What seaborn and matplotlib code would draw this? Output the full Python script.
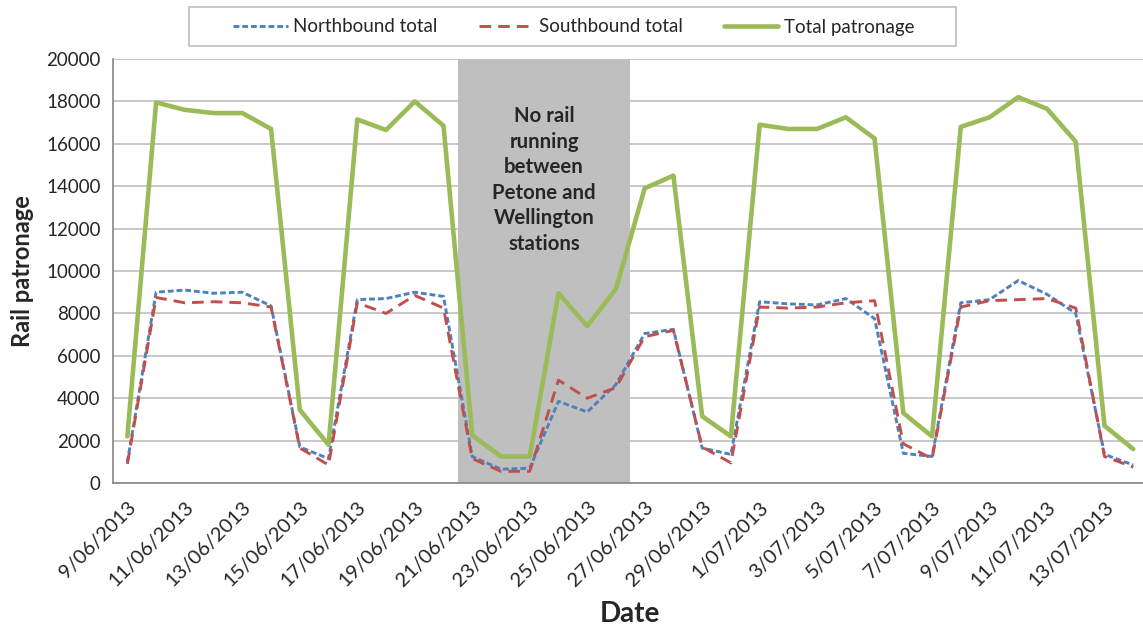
import pandas as pd
import matplotlib
matplotlib.use("Agg")
import matplotlib.pyplot as plt
from matplotlib.patches import Rectangle
import seaborn as sns

# dati (un punto per giorno, dal 9/06/2013 al 14/07/2013)
giorni = pd.date_range("2013-06-09", "2013-07-14", freq="D")
northbound = [1000, 9000, 9100, 8950, 9000, 8350, 1700, 1150, 8650, 8700, 9000, 8800,
              1250, 650, 700, 3850, 3350, 4650, 7050, 7250, 1650, 1350, 8550, 8450,
              8400, 8700, 7750, 1400, 1250, 8500, 8650, 9550, 8900, 8000, 1350, 850]
southbound = [900, 8750, 8500, 8550, 8500, 8300, 1650, 850, 8500, 8000, 8850, 8250,
              1150, 550, 550, 4850, 4000, 4500, 6900, 7200, 1700, 950, 8300, 8250,
              8300, 8500, 8600, 1850, 1150, 8300, 8600, 8650, 8700, 8250, 1250, 750]
totale = [2200, 17950, 17600, 17450, 17450, 16700, 3450, 1800, 17150, 16650, 18000, 16850,
          2250, 1250, 1250, 8950, 7400, 9150, 13900, 14500, 3150, 2200, 16900, 16700,
          16700, 17250, 16250, 3300, 2200, 16800, 17250, 18200, 17650, 16100, 2700, 1600]
etichette_date = ["9/06/2013", "11/06/2013", "13/06/2013", "15/06/2013", "17/06/2013",
                  "19/06/2013", "21/06/2013", "23/06/2013", "25/06/2013", "27/06/2013",
                  "29/06/2013", "1/07/2013", "3/07/2013", "5/07/2013", "7/07/2013",
                  "9/07/2013", "11/07/2013", "13/07/2013"]
# periodo senza treni (21/06 - 26/06)
chiusura_inizio = pd.Timestamp("2013-06-21")
chiusura_fine = pd.Timestamp("2013-06-26")
nota = "No rail\nrunning\nbetween\nPetone and\nWellington\nstations"

df = pd.DataFrame({"data": giorni, "Northbound total": northbound,
                   "Southbound total": southbound, "Total patronage": totale})
df["giorno"] = (df["data"] - giorni[0]).dt.days

sns.set_style("white")
plt.rcParams["font.family"] = ["Lato", "DejaVu Sans"]

W, H = 1143, 628
fig = plt.figure(figsize=(W / 100, H / 100), dpi=100)
ax = fig.add_axes([113 / W, 145 / H, (1147.6 - 113) / W, 424 / H])

# area grigia della chiusura
x0 = (chiusura_inizio - giorni[0]).days - 0.5
x1 = (chiusura_fine - giorni[0]).days + 0.5
ax.axvspan(x0, x1, color="#bfbfbf", zorder=1, lw=0)
ax.text((x0 + x1) / 2, 14290, nota, ha="center", va="center", fontsize=14.7,
        fontweight="bold", linespacing=1.34, zorder=2)

sns.lineplot(data=df, x="giorno", y="Northbound total", ax=ax, color="#4f81bd",
             lw=2.1, label="Northbound total", zorder=3)
sns.lineplot(data=df, x="giorno", y="Southbound total", ax=ax, color="#c0504d",
             lw=2.1, label="Southbound total", zorder=3)
sns.lineplot(data=df, x="giorno", y="Total patronage", ax=ax, color="#9bbb59",
             lw=3.3, label="Total patronage", zorder=4)
linee = ax.get_lines()
linee[0].set_dashes((2.0, 1.0))
linee[1].set_dashes((4.0, 2.4))

ax.set_xlim(-0.5, len(giorni) - 0.5)
ax.set_ylim(0, 20000)
ax.set_yticks(range(0, 20001, 2000))
ax.yaxis.grid(True, color="#bfbfbf", lw=1.2, zorder=0)
ax.set_axisbelow(True)

pos_maggiori = list(range(0, len(giorni), 2))
ax.set_xticks(pos_maggiori)
ax.set_xticklabels(etichette_date, rotation=45, ha="right", va="top",
                   rotation_mode="anchor", fontsize=14.5)
ax.set_xticks([p - 0.5 for p in pos_maggiori], minor=True)
ax.tick_params(axis="x", which="major", length=0, pad=11)
ax.tick_params(axis="x", which="minor", length=7, color="#868686", width=1.2)
ax.tick_params(axis="y", length=6, color="#868686", width=1.2, labelsize=13.5, pad=3)

for lato in ["top", "right"]:
    ax.spines[lato].set_visible(False)
for lato in ["left", "bottom"]:
    ax.spines[lato].set_color("#868686")
    ax.spines[lato].set_linewidth(1.2)

ax.set_xlabel("Date", fontsize=20, fontweight="bold", labelpad=8)
ax.set_ylabel("Rail patronage", fontsize=17, fontweight="bold", labelpad=9)

# legenda in alto, con cornice grigia disegnata a parte
handles, labels = ax.get_legend_handles_labels()
ax.get_legend().remove()
fig.legend(handles, labels, loc="center", bbox_to_anchor=(574 / W, 1 - 27 / H),
           ncol=3, fontsize=13.5, frameon=False, handlelength=2.9,
           handletextpad=0.3, columnspacing=2.2)
fig.patches.append(Rectangle((189 / W, 1 - 46 / H), (956 - 189) / W, 39 / H,
                             transform=fig.transFigure, fill=False,
                             edgecolor="#bfbfbf", lw=1.2))

fig.savefig("out.png", dpi=100)
